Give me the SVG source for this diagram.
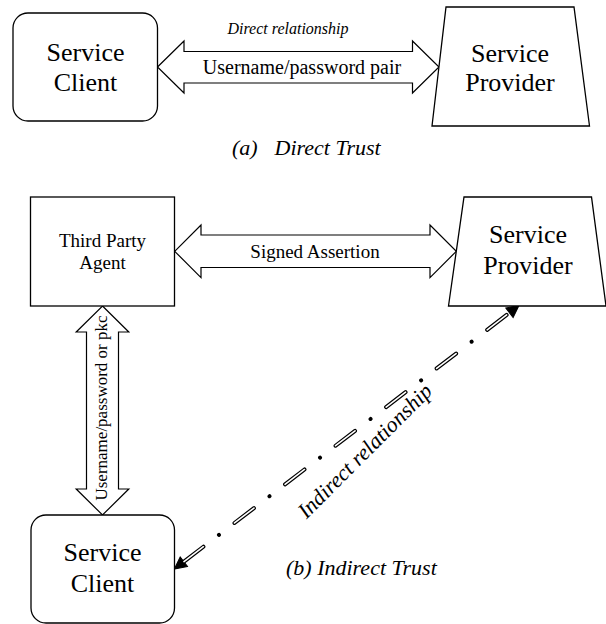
<svg xmlns="http://www.w3.org/2000/svg" width="606" height="624" viewBox="0 0 606 624">
<style>
.box{fill:#fff;stroke:#000;stroke-width:1.3}
.arr{fill:#fff;stroke:#000;stroke-width:1.2;stroke-linejoin:miter}
text{font-family:"Liberation Serif","Times New Roman",serif;fill:#000}
.big{font-size:26px;text-anchor:middle}
.mid{font-size:20px;text-anchor:middle}
.it{font-style:italic}
</style>
<defs>
<marker id="ah" markerUnits="userSpaceOnUse" markerWidth="16" markerHeight="14" refX="14" refY="7" orient="auto-start-reverse" viewBox="0 0 16 14" overflow="visible">
<path d="M2,1 L14,7 L2,13 Z" fill="#000" stroke="#000" stroke-width="1"/>
</marker>
</defs>
<rect width="606" height="624" fill="#fff"/>

<g id="connectors">
<polygon class="arr" points="157.5,67 184,41 184,51.5 412.5,51.5 412.5,41 439,67 412.5,93 412.5,83 184,83 184,93"/>
<text class="it" x="288" y="34" font-size="16" text-anchor="middle">Direct relationship</text>
<text class="mid" x="302" y="73.5">Username/password pair</text>

<polygon class="arr" points="174.7,251.3 201,225 201,235 430,235 430,225 456.3,251.3 430,277.6 430,267.5 201,267.5 201,277.6"/>
<text x="315" y="257.5" font-size="19" text-anchor="middle">Signed Assertion</text>

<polygon class="arr" points="102.5,306 128.8,332 118.5,332 118.5,489 128.8,489 102.5,515 76.2,489 86.5,489 86.5,332 76.2,332"/>
<text font-size="17" text-anchor="middle" transform="translate(107,408) rotate(-90)">Username/password or pkc</text>

<path d="M174.3,569 L519,305.5" fill="none" stroke="#000" stroke-width="4" stroke-linecap="round" stroke-dasharray="24.5 19.55 0.01 19.55" stroke-dashoffset="51.45" marker-start="url(#ah)" marker-end="url(#ah)"/>
<path d="M174.3,569 L519,305.5" fill="none" stroke="#fff" stroke-width="1.6" stroke-linecap="round" stroke-dasharray="24.5 39.11" stroke-dashoffset="51.45"/>
<text class="it" font-size="22" text-anchor="middle" transform="translate(370,456) rotate(-45)">Indirect relationship</text>
</g>

<g id="client-a">
<rect class="box" x="13" y="13" width="144.5" height="108" rx="15"/>
<text class="big" x="85.5" y="60.7">Service</text>
<text class="big" x="85.5" y="90.7">Client</text>
</g>

<g id="provider-a">
<polygon class="box" points="446,7 574,7 589.5,126 432,126"/>
<text class="big" x="510" y="61.7">Service</text>
<text class="big" x="510" y="90.7">Provider</text>
</g>

<g id="caption-a">
<text class="it" font-size="22" y="155"><tspan x="232">(a)</tspan><tspan x="274.5">Direct Trust</tspan></text>
</g>

<g id="third-party">
<rect class="box" x="30.5" y="197" width="144" height="109"/>
<text x="102.5" y="246.7" font-size="19" text-anchor="middle">Third Party</text>
<text x="102.5" y="268.5" font-size="19" text-anchor="middle">Agent</text>
</g>

<g id="provider-b">
<polygon class="box" points="464,197 591.5,197 606,306 448.5,306"/>
<text class="big" x="528" y="243.3">Service</text>
<text class="big" x="528" y="274">Provider</text>
</g>

<g id="client-b">
<rect class="box" x="31" y="515" width="143.5" height="108" rx="15"/>
<text class="big" x="102.5" y="560.7">Service</text>
<text class="big" x="102.5" y="591.7">Client</text>
</g>

<g id="caption-b">
<text class="it" x="361.4" y="575" font-size="22" text-anchor="middle">(b) Indirect Trust</text>
</g>
</svg>
